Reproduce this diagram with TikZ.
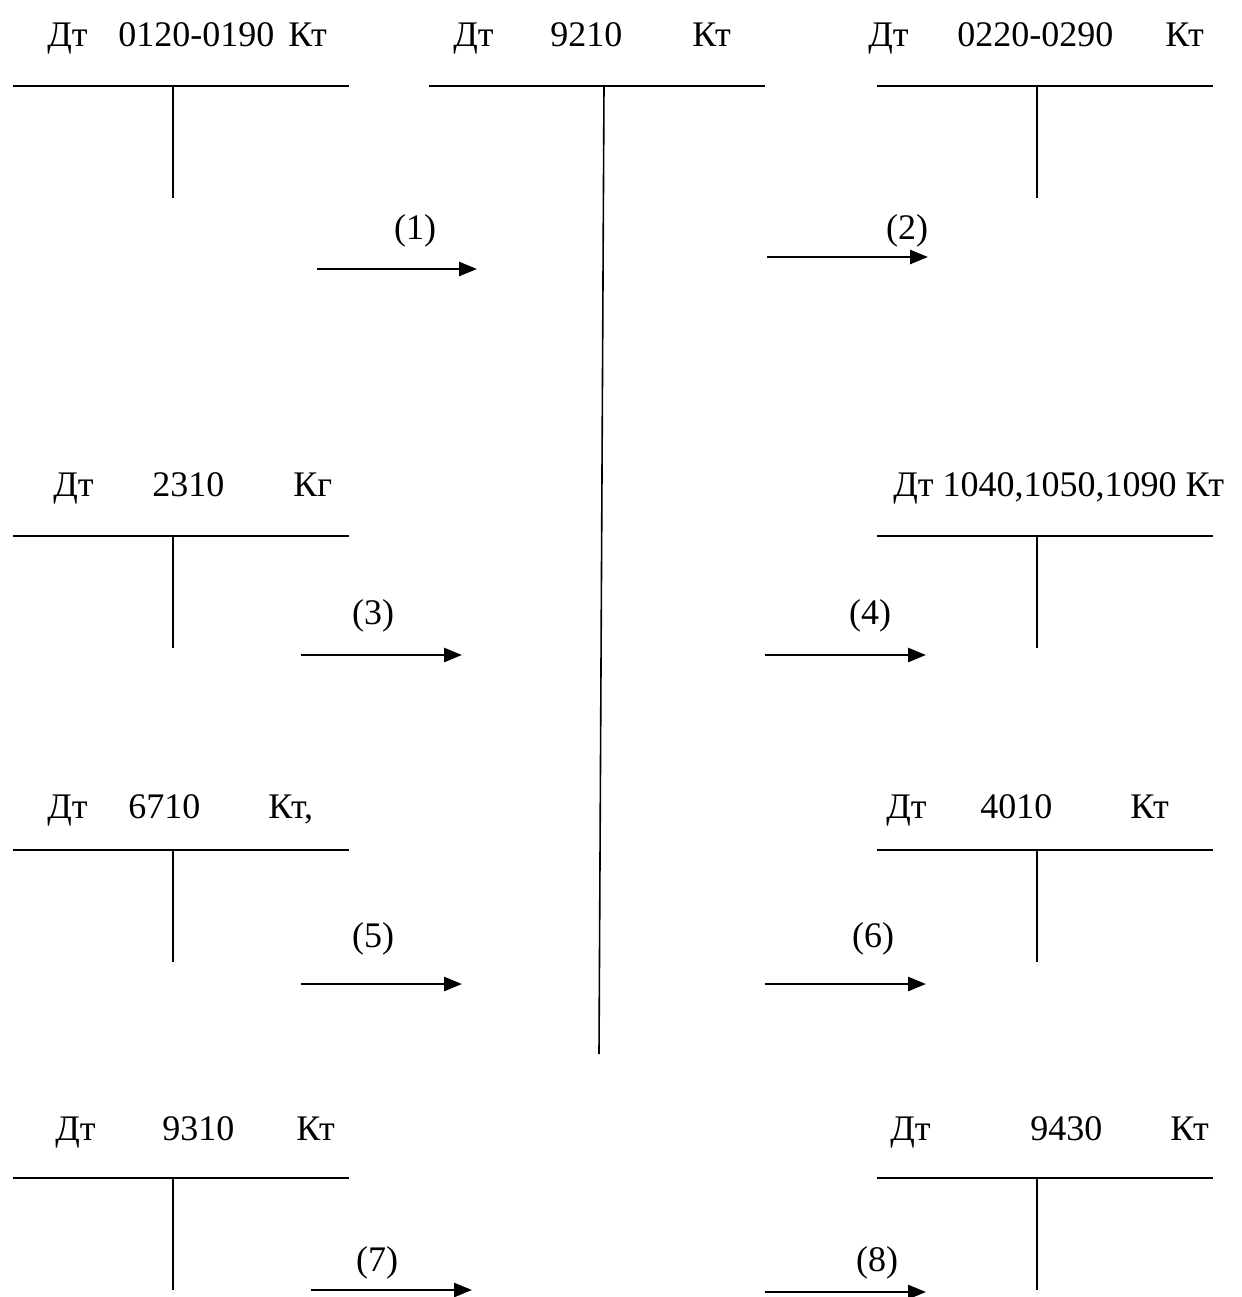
\documentclass[tikz,border=0pt]{standalone}
\usepackage{fontspec}
\setmainfont{Liberation Serif}
\usetikzlibrary{arrows.meta}
% offsets in px (1px = 0.5pt)
\newcommand{\hdrtext}[5]{\rlap{#1}\hspace*{#2\dimexpr0.5pt\relax}\rlap{#3}\hspace*{#4\dimexpr0.5pt\relax}#5}
\begin{document}
\begin{tikzpicture}[x=0.5pt,y=-0.5pt,
  tline/.style={line width=1pt},
  cline/.style={line width=0.8pt},
  arr/.style={line width=1.3pt,-{Triangle[length=9pt,width=7pt]}},
  hdr/.style={anchor=base west,inner sep=0pt,font=\fontsize{18}{20}\selectfont},
  lbl/.style={inner sep=0pt,font=\fontsize{18}{20}\selectfont}]
\useasboundingbox (0,0) rectangle (1242,1297);

% headers
\node[hdr] (h1) at (47,46)   {\hdrtext{Дт}{71}{0120-0190}{170}{Кт}};
\node[hdr] (h2) at (453,46)  {\hdrtext{Дт}{97}{9210}{142}{Кт}};
\node[hdr] (h3) at (868,46)  {\hdrtext{Дт}{89}{0220-0290}{208}{Кт}};
\node[hdr] (h4) at (53,496)  {\hdrtext{Дт}{99}{2310}{141}{Кг}};
\node[hdr] (h5) at (893,496) {Дт 1040,1050,1090 Кт};
\node[hdr] (h6) at (47,818)  {\hdrtext{Дт}{81}{6710}{140}{Кт,}};
\node[hdr] (h7) at (886,818) {\hdrtext{Дт}{94}{4010}{150}{Кт}};
\node[hdr] (h8) at (55,1140) {\hdrtext{Дт}{107}{9310}{134}{Кт}};
\node[hdr] (h9) at (890,1140){\hdrtext{Дт}{140}{9430}{140}{Кт}};

% T-account lines
\foreach \nm/\xl/\xm/\xr/\yy in {t1/13/173/349/86, t3/877/1037/1213/86,
    t4/13/173/349/536, t5/877/1037/1213/536,
    t6/13/173/349/850, t7/877/1037/1213/850,
    t8/13/173/349/1178, t9/877/1037/1213/1178}{
  \coordinate (\nm l) at (\xl,\yy);
  \coordinate (\nm r) at (\xr,\yy);
  \coordinate (\nm m) at (\xm,\yy);
  \coordinate (\nm b) at (\xm,\yy+112);
  \draw[tline] (\nm l) -- (\nm r);
  \draw[tline] (\nm m) -- (\nm b);
}
% central account
\coordinate (t2l) at (429,86);
\coordinate (t2r) at (765,86);
\coordinate (t2m) at (604,86);
\coordinate (t2b) at (599,1054);
\draw[tline] (t2l) -- (t2r);
\draw[cline] (t2m) -- (t2b);

% arrows
\foreach \nm/\xa/\xb/\yy/\lx/\ly/\tx in {
    a1/317/477/269/415/231/1, a2/767/928/257/907/231/2,
    a3/301/462/655/373/616/3, a4/765/926/655/870/616/4,
    a5/301/462/984/373/939/5, a6/765/926/984/873/939/6,
    a7/311/472/1290/377/1263/7, a8/765/926/1292/877/1263/8}{
  \coordinate (\nm s) at (\xa,\yy);
  \coordinate (\nm e) at (\xb,\yy);
  \draw[arr] (\nm s) -- (\nm e);
  \node[lbl] (\nm t) at (\lx,\ly) {(\tx)};
}
\end{tikzpicture}
\end{document}
